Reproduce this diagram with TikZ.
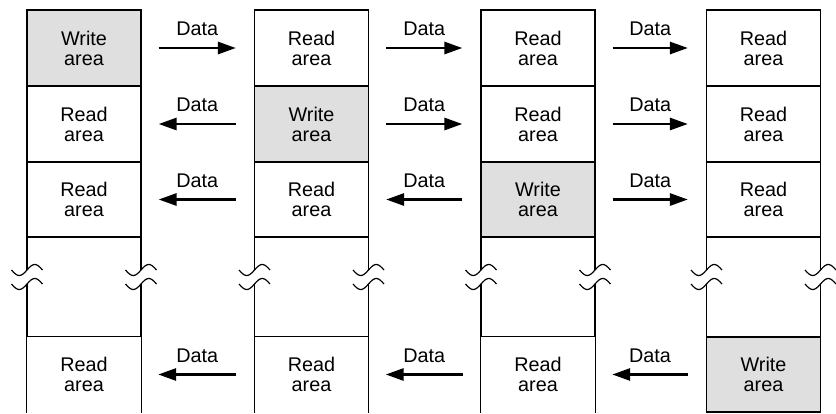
\documentclass[tikz,border=0pt]{standalone}
\usepackage{fontspec}
\setmainfont{Liberation Sans}
\usetikzlibrary{arrows.meta}
\begin{document}
\begin{tikzpicture}[x=1pt,y=-1pt,
  cell/.style={minimum width=114pt,minimum height=76pt,inner sep=0pt,align=center,font=\fontsize{19.8}{20}\selectfont},
  wcell/.style={cell,fill=gray!25,draw,line width=1.2pt},
  rcell/.style={cell,draw,line width=1.2pt},
  ocell/.style={cell},
  frame/.style={line width=1.2pt},
  dataarrow/.style={line width=2.8pt,-{Triangle[length=18pt,width=12pt]}},
  lbl/.style={font=\fontsize{19.8}{20}\selectfont,inner sep=0pt,anchor=base,yshift=12.3pt}]
\useasboundingbox (0,0) rectangle (836,413);
% row 1
\node[wcell] (c11) at (84,48) {Write\\area};
\node[rcell] (c21) at (311.5,48) {Read\\area};
\node[rcell] (c31) at (538,48) {Read\\area};
\node[rcell] (c41) at (763.5,48) {Read\\area};
% row 2
\node[rcell] (c12) at (84,124) {Read\\area};
\node[wcell] (c22) at (311.5,124) {Write\\area};
\node[rcell] (c32) at (538,124) {Read\\area};
\node[rcell] (c42) at (763.5,124) {Read\\area};
% row 3
\node[rcell,minimum height=75pt] (c13) at (84,199.5) {Read\\area};
\node[rcell,minimum height=75pt] (c23) at (311.5,199.5) {Read\\area};
\node[wcell,minimum height=75pt] (c33) at (538,199.5) {Write\\area};
\node[rcell,minimum height=75pt] (c43) at (763.5,199.5) {Read\\area};
% row 4
\node[ocell,minimum height=75pt] (c14) at (84,374.5) {Read\\area};
\node[ocell,minimum height=75pt] (c24) at (311.5,374.5) {Read\\area};
\node[ocell,minimum height=75pt] (c34) at (538,374.5) {Read\\area};
\node[wcell,minimum height=75pt] (c44) at (763.5,374.5) {Write\\area};
% bottom cells of columns 1-3: top edge and sides
\foreach \c in {1,2,3}{
  \draw[frame] (c\c4.north west) -- (c\c4.north east);
  \draw[frame] (c\c4.north west) -- ++(0,76);
  \draw[frame] (c\c4.north east) -- ++(0,76);
}
% broken column sides
\foreach \cx in {27,141,254.5,368.5,481,595,706.5,820.5}{
  \draw[frame] (\cx,237) -- (\cx,270);
  \draw[frame] (\cx,284) -- (\cx,337);
  \draw[frame] plot[domain=-1:1,samples=31,smooth] ({\cx+15.5*\x},{270-5.5*sin(180*\x)});
  \draw[frame] plot[domain=-1:1,samples=31,smooth] ({\cx+15.5*\x},{284-5.5*sin(180*\x)});
}
% arrows row 1
\draw[dataarrow] ([xshift=17pt]c11.east) -- ([xshift=-18pt]c21.west) node[lbl,midway] {Data};
\draw[dataarrow] ([xshift=17pt]c21.east) -- ([xshift=-18pt]c31.west) node[lbl,midway] {Data};
\draw[dataarrow] ([xshift=17pt]c31.east) -- ([xshift=-18pt]c41.west) node[lbl,midway] {Data};
% arrows row 2
\draw[dataarrow] ([xshift=-18pt]c22.west) -- ([xshift=17pt]c12.east) node[lbl,midway] {Data};
\draw[dataarrow] ([xshift=17pt]c22.east) -- ([xshift=-18pt]c32.west) node[lbl,midway] {Data};
\draw[dataarrow] ([xshift=17pt]c32.east) -- ([xshift=-18pt]c42.west) node[lbl,midway] {Data};
% arrows row 3
\draw[dataarrow] ([xshift=-18pt]c23.west) -- ([xshift=17pt]c13.east) node[lbl,midway] {Data};
\draw[dataarrow] ([xshift=-18pt]c33.west) -- ([xshift=17pt]c23.east) node[lbl,midway] {Data};
\draw[dataarrow] ([xshift=17pt]c33.east) -- ([xshift=-18pt]c43.west) node[lbl,midway] {Data};
% arrows row 4
\draw[dataarrow] ([xshift=-18pt]c24.west) -- ([xshift=17pt]c14.east) node[lbl,midway] {Data};
\draw[dataarrow] ([xshift=-18pt]c34.west) -- ([xshift=17pt]c24.east) node[lbl,midway] {Data};
\draw[dataarrow] ([xshift=-18pt]c44.west) -- ([xshift=17pt]c34.east) node[lbl,midway] {Data};
\end{tikzpicture}
\end{document}
